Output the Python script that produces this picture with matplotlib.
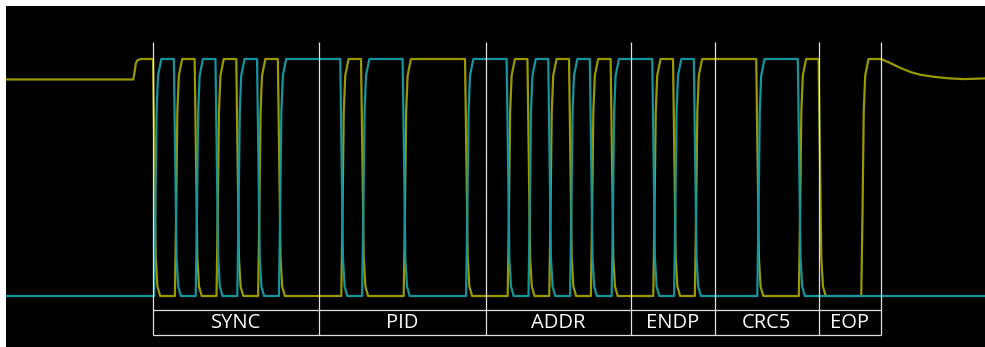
"""
Low-speed USB token packet on D+ / D-, with the packet fields marked below.
"""
import matplotlib.pyplot as plt

# packet fields and their length in bit times
fields = ["SYNC", "PID", "ADDR", "ENDP", "CRC5", "EOP"]
field_bits = [8, 8, 7, 4, 5, 3]

# bus state for each bit time from the start of SYNC: J, K or 0 (SE0)
line_states = list("KJKJKJKK" "KJKKJJJK" "KJKJKJK" "KJKJ" "JJKKJ" "00J")

v_high = 3.3
v_low = 0.0
v_idle = 3.015   # D+ held by the pull-up only

# D+ after the EOP, drifting back to the pull-up level (bit time, volts)
release_t = [35.0, 35.4, 35.9, 36.4, 36.9, 37.6, 38.3, 39.0, 40.0]
release_v = [3.30, 3.25, 3.18, 3.12, 3.08, 3.05, 3.03, 3.02, 3.03]

T_START, T_END = -7.07, 40.0


def add_edge(ts, vs, t0, v0, v1):
    # driver edge: rising edges start a little late and round off at the top
    d = v1 - v0
    if d > 0:
        prof = [(0.05, 0.0), (0.11, 0.35), (0.17, 0.78), (0.24, 0.93), (0.40, 1.0)]
    else:
        prof = [(0.0, 0.0), (0.07, 0.45), (0.13, 0.84), (0.21, 0.96), (0.34, 1.0)]
    for dt, f in prof:
        ts.append(t0 + dt)
        vs.append(v0 + f * d)


def build_trace(levels, start_level, first_bit):
    ts, vs = [T_START], [start_level]
    cur = start_level
    for k, lvl in enumerate(levels):
        if lvl != cur:
            add_edge(ts, vs, first_bit + k, cur, lvl)
            cur = lvl
    return ts, vs


# bit -1 is the driven J just before SYNC
states = ["J"] + line_states
dp_levels = [v_high if s == "J" else v_low for s in states]
dm_levels = [v_high if s == "K" else v_low for s in states]

dp_t, dp_v = build_trace(dp_levels, v_idle, -1)
dp_t += release_t
dp_v += release_v

dm_t, dm_v = build_trace(dm_levels, v_low, -1)
dm_t.append(T_END)
dm_v.append(v_low)

fig = plt.figure(figsize=(9.85, 3.47), dpi=100)
fig.patch.set_facecolor("white")
ax = fig.add_axes([6 / 985, 0, 979 / 985, 341 / 347])
ax.set_facecolor("black")
for s in ax.spines.values():
    s.set_visible(False)
ax.set_xticks([])
ax.set_yticks([])

ax.plot(dp_t, dp_v, color="#999900", lw=1.6, zorder=2)
ax.plot(dm_t, dm_v, color="#14959e", lw=1.6, zorder=3)

# field markers
box_top, box_bot, line_top = -0.195, -0.543, 3.537
bounds = [0]
for n in field_bits:
    bounds.append(bounds[-1] + n)

ax.vlines(bounds, box_bot, line_top, color="#e0e0e0", lw=0.9, zorder=4)
ax.hlines([box_top, box_bot], bounds[0], bounds[-1], color="#e0e0e0", lw=0.9, zorder=4)
for name, a, b in zip(fields, bounds[:-1], bounds[1:]):
    ax.text((a + b) / 2, (box_top + box_bot) / 2, name, color="white",
            fontsize=14.5, family="Open Sans", ha="center", va="center", zorder=5)

ax.set_xlim(T_START, T_END)
ax.set_ylim(-0.710, 4.038)

fig.savefig("out.png", dpi=100, facecolor=fig.get_facecolor())
